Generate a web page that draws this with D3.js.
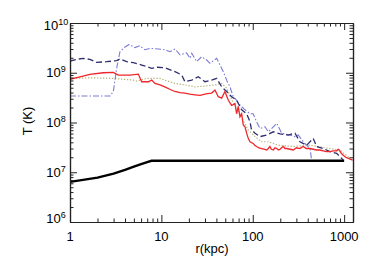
<!DOCTYPE html>
<html>
<head>
<meta charset="utf-8">
<script src="https://cdn.jsdelivr.net/npm/d3@7"></script>
<style>
  body { margin: 0; background: #fff; }
  text { font-family: "Liberation Sans", Arial, sans-serif; }
</style>
</head>
<body>
<div id="canvas"></div>
<script>
// profiles: [r (kpc), T (K)]
const redProfile = [[1,7.4e8],[1.29,8.3e8],[1.65,9.3e8],[2.31,1.0e9],[2.98,1.02e9],[3.38,9.0e8],[4.53,9.0e8],[5.59,9.4e8],[6.09,6.6e8],[7.19,6.6e8],[7.83,7.1e8],[8.51,6.1e8],[9.66,5.7e8],[10.9,5.2e8],[12.5,4.6e8],[14.1,4.2e8],[16,4.0e8],[18.1,3.9e8],[20.5,3.7e8],[23.3,3.6e8],[26.5,3.5e8],[30,3.7e8],[32,3.8e8],[35.5,3.9e8],[38.6,4.5e8],[41.9,3.3e8],[45.7,3.1e8],[49.6,4.2e8],[54,2.8e8],[58.7,2.2e8],[63.8,2.4e8],[66.6,1.5e8],[69.4,2.1e8],[72.4,1.3e8],[75.6,1.5e8],[78.7,8.9e7],[82.2,8.2e7],[85.7,6.1e7],[89.3,4.8e7],[93.2,4.1e7],[101,3.8e7],[105,3.5e7],[110,3.3e7],[117,3.1e7],[125,3.0e7],[133,2.9e7],[142,2.8e7],[148,3.0e7],[154,3.3e7],[160,2.9e7],[168,2.8e7],[175,3.1e7],[183,3.0e7],[191,2.8e7],[199,2.9e7],[207,3.1e7],[216,3.3e7],[225,3.0e7],[235,3.0e7],[255,2.9e7],[278,2.8e7],[300,3.1e7],[328,3.0e7],[345,3.2e7],[357,3.3e7],[385,3.0e7],[423,3.0e7],[460,2.9e7],[500,2.8e7],[540,2.8e7],[590,2.7e7],[640,2.6e7],[700,2.6e7],[760,2.7e7],[828,2.7e7],[860,2.9e7],[884,2.8e7],[930,2.4e7],[977,2.2e7],[1040,2.0e7],[1109,1.9e7],[1239,1.76e7]];

const tanProfile = [[1,7.7e8],[1.65,7.9e8],[2.98,7.7e8],[4.93,7.1e8],[5.37,6.8e8],[6.9,7.7e8],[9.66,7.7e8],[10.9,7.1e8],[14.1,6.1e8],[18.1,5.7e8],[23.3,5.2e8],[30,5.4e8],[38.6,5.7e8],[45.7,6.1e8],[51.8,4.9e8],[59.2,2.8e8],[68.9,1.8e8],[78.1,1.1e8],[89.3,7.1e7],[106,5.2e7],[125,4.1e7],[148,4.1e7],[190,3.5e7],[278,3.3e7],[423,3.5e7],[617,3.1e7],[900,2.8e7],[1157,1.9e7]];

const navyProfile = [[1,1.72e9],[1.18,1.86e9],[1.4,1.95e9],[1.65,1.86e9],[1.96,1.62e9],[2.52,1.67e9],[3.24,1.75e9],[3.52,1.89e9],[4.17,1.67e9],[4.93,1.59e9],[6.09,1.43e9],[7.83,1.23e9],[8.89,1.29e9],[10.9,1.26e9],[14.1,1.05e9],[16.7,9.0e8],[18.1,6.6e8],[21.5,7.1e8],[25.3,8.3e8],[30,6.6e8],[35.5,7.1e8],[40.3,7.7e8],[45.7,5.2e8],[51.8,4.2e8],[58.7,3.3e8],[66.6,2.8e8],[75.6,1.8e8],[85.7,1.5e8],[93.2,1.04e8],[97,7.1e7],[106,6.1e7],[120,5.2e7],[142,5.6e7],[168,6.5e7],[199,5.9e7],[245,5.6e7],[290,6.1e7],[328,4.1e7],[389,3.5e7],[459,4.8e7],[500,3.3e7],[590,3.0e7],[700,2.6e7],[828,2.4e7],[900,2.06e7],[977,1.76e7]];

const blueProfile = [[1,3.4e8],[1.65,3.4e8],[2.74,3.4e8],[2.98,4.2e8],[3.24,1.23e9],[3.52,2.65e9],[4.0,3.3e9],[4.45,3.7e9],[5.14,3.2e9],[5.8,3.5e9],[6.6,2.9e9],[7.5,3.1e9],[9.25,3.0e9],[10.9,2.9e9],[12.4,2.65e9],[14.1,3.0e9],[16,2.3e9],[18.9,2.5e9],[20.6,1.95e9],[21.5,2.46e9],[24.3,1.67e9],[27.6,2.1e9],[31.3,1.8e9],[34,1.55e9],[40.3,1.95e9],[43.8,1.43e9],[47.6,1.05e9],[51.8,7.1e8],[56.3,5.2e8],[61.2,3.3e8],[66.6,2.8e8],[72.4,2.25e8],[82.2,1.8e8],[93.2,1.5e8],[101,1.5e8],[110,1.04e8],[120,7.6e7],[136,8.2e7],[148,6.5e7],[168,8.2e7],[183,9.6e7],[207,6.1e7],[255,5.6e7],[290,5.2e7],[315,5.6e7],[357,4.1e7],[389,3.5e7],[423,3.0e7],[441,1.76e7]];

const blackProfile = [[1,6.4e6],[2,7.8e6],[3,9.4e6],[4,1.12e7],[5,1.3e7],[6,1.45e7],[7,1.6e7],[7.8,1.7e7],[1000,1.7e7]];

const xMajor = [1, 10, 100, 1000];
const yMajor = [1e6, 1e7, 1e8, 1e9, 1e10];

const width = 374;
const height = 267;
const margin = { top: 23, left: 70, bottom: 45, right: 21 };

const svg = d3.select("#canvas").append("svg")
    .attr("width", width)
    .attr("height", height);

const x = d3.scaleLog()
    .domain([1, 1250])
    .range([margin.left, width - margin.right]);

const y = d3.scaleLog()
    .domain([1e6, 1e10])
    .range([height - margin.bottom, margin.top]);

// minor ticks 2..9 in every decade
const xMinor = [];
[1, 10, 100, 1000].forEach(d => { for (let k = 2; k <= 9; k++) if (d * k <= 1250) xMinor.push(d * k); });
const yMinor = [];
[1e6, 1e7, 1e8, 1e9].forEach(d => { for (let k = 2; k <= 9; k++) yMinor.push(d * k); });

svg.append("clipPath").attr("id", "clip")
  .append("rect")
    .attr("x", margin.left).attr("y", margin.top)
    .attr("width", width - margin.left - margin.right)
    .attr("height", height - margin.top - margin.bottom);

const line = d3.line().x(d => x(d[0])).y(d => y(d[1]));
const plot = svg.append("g").attr("clip-path", "url(#clip)");

plot.append("path").datum(blackProfile)
    .attr("d", line).attr("fill", "none")
    .attr("stroke", "#000").attr("stroke-width", 2.4);

plot.append("path").datum(tanProfile)
    .attr("d", line).attr("fill", "none")
    .attr("stroke", "#b3b27a").attr("stroke-width", 1.2)
    .attr("stroke-dasharray", "1.3,1.7");

plot.append("path").datum(blueProfile)
    .attr("d", line).attr("fill", "none")
    .attr("stroke", "#7b7bd6").attr("stroke-width", 1.1)
    .attr("stroke-dasharray", "6,2,1.5,2");

plot.append("path").datum(navyProfile)
    .attr("d", line).attr("fill", "none")
    .attr("stroke", "#2e2e6e").attr("stroke-width", 1.3)
    .attr("stroke-dasharray", "6,3");

plot.append("path").datum(redProfile)
    .attr("d", line).attr("fill", "none")
    .attr("stroke", "#f0262a").attr("stroke-width", 1.3);

// axes, ticks pointing inward on all four sides
const bottom = height - margin.bottom;
const right = width - margin.right;

function styleAxis(g) {
    g.selectAll("path, line").attr("stroke", "#222").attr("stroke-width", 1);
    g.selectAll("text").remove();
}

svg.append("g").attr("transform", `translate(0,${bottom})`)
    .call(d3.axisBottom(x).tickValues(xMajor).tickSize(-7).tickSizeOuter(0)).call(styleAxis);
svg.append("g").attr("transform", `translate(0,${bottom})`)
    .call(d3.axisBottom(x).tickValues(xMinor).tickSize(-3.5).tickSizeOuter(0)).call(styleAxis);
svg.append("g").attr("transform", `translate(0,${margin.top})`)
    .call(d3.axisTop(x).tickValues(xMajor).tickSize(-7).tickSizeOuter(0)).call(styleAxis);
svg.append("g").attr("transform", `translate(0,${margin.top})`)
    .call(d3.axisTop(x).tickValues(xMinor).tickSize(-3.5).tickSizeOuter(0)).call(styleAxis);

svg.append("g").attr("transform", `translate(${margin.left},0)`)
    .call(d3.axisLeft(y).tickValues(yMajor).tickSize(-7).tickSizeOuter(0)).call(styleAxis);
svg.append("g").attr("transform", `translate(${margin.left},0)`)
    .call(d3.axisLeft(y).tickValues(yMinor).tickSize(-3.5).tickSizeOuter(0)).call(styleAxis);
svg.append("g").attr("transform", `translate(${right},0)`)
    .call(d3.axisRight(y).tickValues(yMajor).tickSize(-7).tickSizeOuter(0)).call(styleAxis);
svg.append("g").attr("transform", `translate(${right},0)`)
    .call(d3.axisRight(y).tickValues(yMinor).tickSize(-3.5).tickSizeOuter(0)).call(styleAxis);

// side spines look a bit heavier/greyer
svg.selectAll("g .domain").attr("stroke-width", 1.2);

// tick labels
svg.append("g").selectAll("text").data(xMajor).join("text")
    .attr("x", d => x(d))
    .attr("y", bottom + 19)
    .attr("text-anchor", "middle")
    .attr("font-size", 13)
    .text(d => d);

const yLabels = svg.append("g").selectAll("text").data(yMajor).join("text")
    .attr("x", 56)
    .attr("y", d => Math.min(Math.max(y(d) + 4.5, 30), bottom + 1))
    .attr("text-anchor", "middle")
    .attr("font-size", 13);
yLabels.append("tspan").text("10");
yLabels.append("tspan")
    .attr("font-size", 9)
    .attr("dy", -5)
    .text(d => Math.round(Math.log10(d)));

svg.append("text")
    .attr("x", (margin.left + right) / 2 + 0.5)
    .attr("y", 253)
    .attr("text-anchor", "middle")
    .attr("font-size", 13)
    .text("r(kpc)");

svg.append("text")
    .attr("transform", "translate(32,121) rotate(-90)")
    .attr("text-anchor", "middle")
    .attr("font-size", 13)
    .text("T (K)");
</script>
</body>
</html>
